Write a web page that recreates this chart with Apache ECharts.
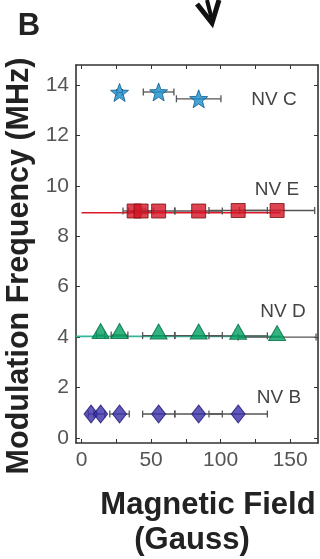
<!DOCTYPE html>
<html>
<head>
<meta charset="utf-8">
<script src="https://cdn.jsdelivr.net/npm/echarts@6/dist/echarts.min.js"></script>
<style>
html,body{margin:0;padding:0;background:#fff;}
#c{width:320px;height:559px;}
</style>
</head>
<body>
<div id="c"></div>
<script>
// ---- data ----
const xTicks = [0, 25, 50, 75, 100, 125, 150];
const xLabels = [0, 50, 100, 150];
const yTicks = [0, 2, 4, 6, 8, 10, 12, 14];

const fieldB = [6.8, 13.7, 27.3, 55.4, 84.2, 112.6];
const freqB  = [0.95, 0.95, 0.95, 0.95, 0.95, 0.95];
const errB   = [2, 3, 7, 11.5, 17, 21];

const fieldD = [13.7, 27.3, 55.4, 84.2, 112.6, 140.6];
const freqD  = [4.08, 4.08, 4.06, 4.06, 4.05, 4.0];
const errD   = [3, 6, 11.5, 17, 21, 28];
const fitD   = [[-4, 4.03], [143, 4.03]];

const fieldE = [37.8, 42.8, 55.4, 84.2, 112.6, 140.6];
const freqE  = [9.0, 9.0, 9.0, 9.0, 9.02, 9.02];
const errE   = [8, 9, 11.5, 17, 21, 27];
const fitE   = [[0, 8.93], [143, 8.93]];

const fieldC = [27.3, 55.4, 84.2];
const freqC  = [13.7, 13.72, 13.45];
const errC   = [2, 11, 16];

const seriesNames = ['NV B', 'NV D', 'NV E', 'NV C'];

// ---- build ----
const zip = (xs, ys) => xs.map((x, i) => [x, ys[i]]);
const zip3 = (xs, ys, es) => xs.map((x, i) => [x, ys[i], es[i]]);

const FONT = 'Liberation Sans, Arial, Helvetica, sans-serif';

function errRender(params, api) {
  const x = api.value(0), y = api.value(1), e = api.value(2);
  const p0 = api.coord([x - e, y]);
  const p1 = api.coord([x + e, y]);
  const h = 3.5;
  const st = {stroke: '#555', lineWidth: 1.3};
  return {type: 'group', children: [
    {type: 'line', shape: {x1: p0[0], y1: p0[1], x2: p1[0], y2: p1[1]}, style: st},
    {type: 'line', shape: {x1: p0[0], y1: p0[1] - h, x2: p0[0], y2: p0[1] + h}, style: st},
    {type: 'line', shape: {x1: p1[0], y1: p1[1] - h, x2: p1[0], y2: p1[1] + h}, style: st}
  ]};
}
function errSeries(data) {
  return {type: 'custom', renderItem: errRender, data: data, clip: true, z: 2, silent: true,
    encode: {x: 0, y: 1}};
}

const starPath = 'path://M50 0 L62.5 33 L97.6 34.5 L70 56.5 L79.4 90.5 L50 71 L20.6 90.5 L30 56.5 L2.4 34.5 L37.5 33 Z';

const chart = echarts.init(document.getElementById('c'), null, {renderer: 'canvas'});

const axisLabelStyle = {fontFamily: FONT, fontSize: 21, color: '#555'};

const option = {
  animation: false,
  backgroundColor: '#fff',
  grid: {left: 76, right: 2, top: 65, bottom: 116, show: false},
  xAxis: [{
    type: 'value', min: -4, max: 170, position: 'bottom',
    axisLine: {show: true, onZero: false, lineStyle: {color: '#333', width: 1.6}},
    axisTick: {show: true, inside: true, length: 4, customValues: xTicks, lineStyle: {color: '#333'}},
    axisLabel: Object.assign({margin: 7, customValues: xLabels}, axisLabelStyle),
    splitLine: {show: false}
  }, {
    type: 'value', min: -4, max: 170, position: 'top',
    axisLine: {show: true, onZero: false, lineStyle: {color: '#333', width: 1.6}},
    axisTick: {show: true, inside: true, length: 4, customValues: xTicks, lineStyle: {color: '#333'}},
    axisLabel: {show: false}, splitLine: {show: false}
  }],
  yAxis: [{
    type: 'value', min: -0.2, max: 14.79, position: 'left',
    axisLine: {show: true, onZero: false, lineStyle: {color: '#333', width: 1.6}},
    axisTick: {show: true, inside: true, length: 4, customValues: yTicks, lineStyle: {color: '#333'}},
    axisLabel: Object.assign({margin: 7, customValues: yTicks}, axisLabelStyle),
    splitLine: {show: false}
  }, {
    type: 'value', min: -0.2, max: 14.79, position: 'right',
    axisLine: {show: true, onZero: false, lineStyle: {color: '#333', width: 1.6}},
    axisTick: {show: true, inside: true, length: 4, customValues: yTicks, lineStyle: {color: '#333'}},
    axisLabel: {show: false}, splitLine: {show: false}
  }],
  series: [
    // fit lines
    {type: 'line', data: fitE, symbol: 'none', z: 1, silent: true,
     lineStyle: {color: '#e01828', width: 1.6}},
    {type: 'line', data: fitD, symbol: 'none', z: 1, silent: true,
     lineStyle: {color: '#33b69c', width: 1.6}},
    // error bars
    errSeries(zip3(fieldB, freqB, errB)),
    errSeries(zip3(fieldD, freqD, errD)),
    errSeries(zip3(fieldE, freqE, errE)),
    errSeries(zip3(fieldC, freqC, errC)),
    // markers
    {name: seriesNames[0], type: 'scatter', data: zip(fieldB, freqB), z: 5,
     symbol: 'diamond', symbolSize: [14, 18],
     itemStyle: {color: '#3a2fa8', borderColor: '#231a78', borderWidth: 1}},
    {name: seriesNames[1], type: 'scatter', data: zip(fieldD, freqD), z: 5,
     symbol: 'triangle', symbolSize: [17, 15], symbolOffset: [0, -4],
     itemStyle: {color: '#00a060', borderColor: '#006a40', borderWidth: 1}},
    {name: seriesNames[2], type: 'scatter', data: zip(fieldE, freqE), z: 5,
     symbol: 'rect', symbolSize: 14,
     itemStyle: {color: '#d41424', borderColor: '#7a1010', borderWidth: 1}},
    {name: seriesNames[3], type: 'scatter', data: zip(fieldC, freqC), z: 5,
     symbol: starPath, symbolSize: 18,
     itemStyle: {color: '#1a8ccc', borderColor: '#0d5d8c', borderWidth: 1}}
  ],
  graphic: [
    {type: 'text', x: 29, y: 26, style: {text: 'B', font: 'bold 31px ' + FONT, fill: '#222', align: 'center', verticalAlign: 'middle'}},
    {type: 'polyline', shape: {points: [[197, 4], [212, 23], [219, 0]]},
     style: {stroke: '#111', lineWidth: 5, fill: null, lineJoin: 'miter'}},
    {type: 'line', shape: {x1: 207, y1: 0, x2: 212, y2: 20}, style: {stroke: '#111', lineWidth: 4}},
    {type: 'text', x: 274, y: 100, style: {text: seriesNames[3], font: '19px ' + FONT, fill: '#444', align: 'center', verticalAlign: 'middle'}},
    {type: 'text', x: 277, y: 190, style: {text: seriesNames[2], font: '19px ' + FONT, fill: '#444', align: 'center', verticalAlign: 'middle'}},
    {type: 'text', x: 283, y: 312, style: {text: seriesNames[1], font: '19px ' + FONT, fill: '#444', align: 'center', verticalAlign: 'middle'}},
    {type: 'text', x: 279, y: 398, style: {text: seriesNames[0], font: '19px ' + FONT, fill: '#444', align: 'center', verticalAlign: 'middle'}},
    {type: 'text', x: 208, y: 505, style: {text: 'Magnetic Field', font: 'bold 31px ' + FONT, fill: '#222', align: 'center', verticalAlign: 'middle'}},
    {type: 'text', x: 192, y: 540, style: {text: '(Gauss)', font: 'bold 31px ' + FONT, fill: '#222', align: 'center', verticalAlign: 'middle'}},
    {type: 'text', x: 20, y: 266, rotation: Math.PI / 2,
     style: {text: 'Modulation Frequency (MHz)', font: 'bold 30.5px ' + FONT, fill: '#222', align: 'center', verticalAlign: 'middle'}}
  ]
};
chart.setOption(option);
</script>
</body>
</html>
